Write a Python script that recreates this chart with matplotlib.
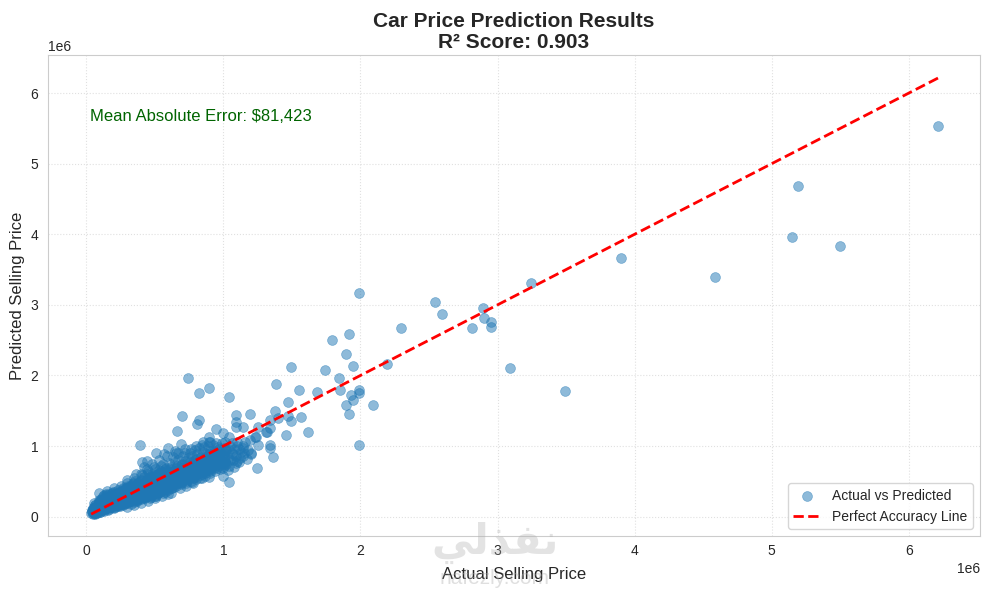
import numpy as np
import matplotlib
matplotlib.use('Agg')
import matplotlib.pyplot as plt
import seaborn as sns

# values, in thousands
actual_low = [35, 40, 45, 50, 55, 60, 65, 70, 75, 80,
              38, 42, 48, 52, 58, 62, 68, 72, 78, 82,
              85, 90, 95, 100, 105, 110, 115, 120, 125, 130,
              88, 92, 98, 102, 108, 112, 118, 122, 128, 132,
              135, 140, 145, 150, 155, 160, 165, 170, 175, 180,
              138, 142, 148, 152, 158, 162, 168, 172, 178, 182,
              185, 190, 195, 200, 205, 210, 215, 220, 225, 230,
              188, 192, 198, 202, 208, 212, 218, 222, 228, 232,
              235, 240, 245, 250, 255, 260, 265, 270, 275, 280,
              238, 242, 248, 252, 258, 262, 268, 272, 278, 282,
              285, 290, 295, 300, 305, 310, 315, 320, 325, 330,
              288, 292, 298, 302, 308, 312, 318, 322, 328, 332]
pred_low = [55, 85, 40, 110, 65, 130, 50, 95, 150, 70,
            100, 60, 125, 45, 90, 160, 75, 120, 55, 140,
            180, 75, 125, 220, 95, 150, 260, 110, 195, 85,
            105, 235, 145, 70, 185, 120, 165, 290, 135, 225,
            110, 205, 320, 150, 95, 250, 175, 130, 280, 210,
            170, 125, 230, 300, 145, 190, 115, 265, 155, 240,
            135, 330, 185, 260, 120, 215, 300, 165, 240, 145,
            225, 160, 285, 195, 350, 130, 250, 205, 170, 310,
            190, 270, 150, 340, 225, 175, 295, 385, 210, 255,
            315, 205, 245, 180, 360, 280, 165, 235, 330, 195,
            225, 410, 270, 190, 345, 240, 300, 440, 175, 265,
            320, 205, 375, 255, 295, 420, 215, 350, 280, 235]

actual_mid = [335, 340, 345, 350, 355, 360, 365, 370, 375, 380,
              338, 342, 348, 352, 358, 362, 368, 372, 378, 382,
              385, 390, 395, 400, 405, 410, 415, 420, 425, 430,
              388, 392, 398, 402, 408, 412, 418, 422, 428, 432,
              435, 440, 445, 450, 455, 460, 465, 470, 475, 480,
              438, 442, 448, 452, 458, 462, 468, 472, 478, 482,
              485, 490, 495, 500, 505, 510, 515, 520, 525, 530,
              488, 492, 498, 502, 508, 512, 518, 522, 528, 532,
              535, 540, 545, 550, 555, 560, 565, 570, 575, 580,
              538, 542, 548, 552, 558, 562, 568, 572, 578, 582,
              585, 590, 595, 600, 605, 610, 615, 620, 625, 630,
              635, 640, 645, 650, 655, 660, 665, 670, 675, 680]
pred_mid = [300, 480, 210, 385, 265, 330, 450, 240, 355, 295,
            250, 370, 325, 505, 285, 415, 220, 345, 470, 310,
            390, 260, 520, 335, 430, 290, 365, 555, 275, 405,
            320, 460, 245, 375, 590, 300, 435, 350, 265, 500,
            385, 610, 290, 445, 340, 530, 270, 400, 575, 315,
            480, 360, 640, 305, 420, 550, 280, 470, 380, 600,
            325, 510, 430, 670, 295, 395, 565, 345, 490, 620,
            410, 700, 360, 540, 450, 320, 590, 425, 655, 375,
            500, 345, 720, 440, 610, 385, 530, 680, 350, 465,
            570, 400, 650, 480, 335, 740, 425, 585, 510, 690,
            440, 620, 370, 760, 500, 560, 405, 700, 470, 640,
            530, 420, 780, 590, 460, 710, 540, 800, 490, 650]

actual_high = [685, 690, 695, 700, 705, 710, 715, 720, 725, 730,
               735, 740, 745, 750, 755, 760, 765, 770, 775, 780,
               785, 790, 795, 800, 805, 810, 815, 820, 825, 830,
               835, 840, 845, 850, 855, 860, 865, 870, 875, 880,
               885, 890, 895, 900, 905, 910, 915, 920, 925, 930,
               935, 940, 950, 960, 970, 980, 990, 1000, 1010, 1020,
               1030, 1040, 1050, 1060, 1070, 1080, 1090, 1100, 1110, 1130]
pred_high = [600, 480, 740, 530, 860, 650, 560, 790, 700, 610,
             500, 830, 680, 580, 900, 730, 630, 860, 540, 770,
             670, 950, 600, 810, 720, 880, 650, 760, 970, 690,
             840, 610, 780, 920, 700, 990, 660, 850, 750, 890,
             720, 1000, 800, 650, 930, 780, 870, 700, 1020, 840,
             760, 910, 690, 980, 820, 750, 1040, 880, 780, 950,
             840, 720, 1000, 900, 800, 960, 860, 1060, 780, 920]

# the solid body of the cloud, where single points can't be told apart
actual_body = [62, 58, 64, 60, 66, 56, 63, 59,
               97, 92, 99, 94, 96, 91, 98, 93,
               132, 128, 134, 126, 131, 129, 135, 127,
               167, 163, 169, 161, 166, 164, 170, 162,
               202, 198, 204, 196, 201, 199, 205, 197,
               237, 233, 239, 231, 236, 234, 240, 232,
               272, 268, 274, 266, 271, 269, 275, 267,
               307, 303, 309, 301, 306, 304, 310, 302,
               342, 338, 344, 336, 341, 339, 345, 337,
               377, 373, 379, 371, 376, 374, 380, 372,
               412, 408, 414, 406, 411, 409, 415, 407,
               447, 443, 449, 441, 446, 444, 450, 442,
               482, 478, 484, 476, 481, 479, 485, 477,
               517, 513, 519, 511, 516, 514, 520, 512,
               552, 548, 554, 546, 551, 549, 555, 547,
               587, 583, 589, 581, 586, 584, 590, 582,
               622, 618, 624, 616, 621, 619, 625, 617,
               657, 653, 659, 651, 656, 654, 660, 652,
               692, 688, 694, 686, 691, 689, 695, 687,
               727, 723, 729, 721, 726, 724, 730, 722,
               762, 758, 764, 756, 761, 759, 765, 757,
               797, 793, 799, 791, 796, 794, 800, 792,
               832, 828, 834, 826, 831, 829, 835, 827,
               867, 863, 869, 861, 866, 864, 870, 862,
               902, 898, 904, 896, 901, 899, 905, 897,
               937, 933, 939, 931, 936, 934, 940, 932,
               972, 968, 974, 966, 971, 969, 975, 967,
               1007, 1003, 1009, 1001, 1006, 1004, 1010, 1002]
pred_body = [40, 70, 100, 130, 160, 190, 55, 115,
             60, 90, 120, 150, 180, 210, 240, 75,
             90, 120, 150, 180, 210, 240, 270, 300,
             110, 140, 170, 200, 230, 260, 290, 320,
             130, 165, 195, 230, 260, 290, 320, 350,
             160, 190, 225, 255, 285, 320, 350, 380,
             185, 220, 250, 280, 315, 345, 380, 410,
             205, 240, 270, 300, 335, 365, 400, 430,
             225, 260, 290, 325, 355, 390, 420, 455,
             250, 285, 315, 350, 380, 415, 450, 480,
             270, 305, 340, 370, 405, 440, 470, 505,
             295, 330, 365, 395, 430, 465, 500, 530,
             315, 350, 385, 420, 455, 490, 525, 560,
             340, 375, 410, 445, 480, 515, 550, 590,
             365, 400, 435, 470, 505, 540, 580, 615,
             390, 425, 460, 495, 530, 570, 605, 640,
             410, 450, 485, 520, 555, 595, 630, 670,
             435, 470, 510, 545, 585, 620, 660, 695,
             460, 495, 535, 570, 610, 650, 685, 725,
             480, 520, 555, 595, 635, 670, 710, 750,
             505, 545, 580, 620, 660, 695, 735, 775,
             530, 565, 605, 645, 680, 720, 760, 800,
             550, 590, 630, 665, 705, 745, 785, 825,
             575, 615, 650, 690, 730, 770, 810, 850,
             620, 655, 695, 730, 770, 810, 850, 890,
             650, 690, 725, 765, 805, 845, 885, 925,
             680, 720, 755, 795, 835, 875, 915, 955,
             710, 750, 785, 825, 860, 900, 940, 975]

# points along the rim of the cloud and just past x = 1
actual_edge = [89, 405, 444, 507, 568, 597, 653, 692, 393, 498, 597, 768, 896, 999, 1042, 648, 721, 845, 947, 663,
               999, 1100, 768, 896,
               1020, 1050, 1070, 1040, 1090, 1120, 1150, 1100, 1140, 1180, 1010, 1060, 1170, 1200, 1080, 1030, 1110, 1160,
               300, 350, 400, 450, 500, 550, 620, 680, 730, 780, 840,
               150, 200, 250, 300, 350, 400, 440, 480, 530, 590, 630, 670, 720, 760, 800, 850, 900, 300, 360, 420]
pred_edge = [337, 768, 790, 900, 885, 966, 895, 1023, 1020, 295, 319, 493, 564, 569, 484, 923, 952, 1008, 1037, 1207,
             683, 782, 640, 690,
             740, 800, 880, 950, 760, 830, 900, 1000, 1000, 950, 1060, 1040, 820, 880, 700, 660, 960, 1060,
             130, 160, 190, 225, 260, 290, 340, 400, 440, 480, 540,
             360, 400, 440, 480, 540, 610, 680, 750, 800, 860, 850, 900, 900, 960, 1000, 1060, 1060, 520, 600, 700]

actual_out = [743, 896, 823, 1042, 700, 823, 809, 1093, 1093, 1093, 947, 999, 896, 896, 1042,
              1196, 1145, 1254, 1342, 1342, 1320, 1232, 1196, 1254, 1342, 1342, 1364, 1203, 1145, 1145, 1247,
              1312, 1240, 1385, 1553, 1685, 1473, 1378, 1473, 1568, 1495, 1400, 1458, 1619,
              1991, 1918, 1794, 1896, 1948, 1495, 1743, 1845, 1853, 1991, 1991, 1933, 1948, 1896, 2094, 1918, 1991,
              2196, 2298, 2546, 2597, 2816, 2897, 2899, 2950, 2950, 3094, 3247, 3495,
              3900, 4590, 5145, 5195, 5500, 6215]
pred_out = [1957, 1816, 1745, 1688, 1419, 1363, 1306, 1433, 1334, 1270, 1235, 1178, 1122, 1060, 1122,
            1448, 1263, 1263, 1363, 1249, 1193, 1122, 1079, 1008, 1008, 966, 839, 895, 966, 860, 683,
            1200, 1130, 1872, 1787, 1759, 1617, 1490, 1419, 1405, 1348, 1391, 1150, 1193,
            3161, 2580, 2496, 2297, 2140, 2113, 2070, 1957, 1800, 1800, 1745, 1716, 1645, 1575, 1575, 1448, 1008,
            2156, 2666, 3034, 2864, 2666, 2949, 2816, 2750, 2680, 2100, 3303, 1773,
            3660, 3390, 3960, 4680, 3840, 5530]

actual = np.array(actual_low + actual_mid + actual_high + actual_body + actual_edge + actual_out) * 1000
predicted = np.array(pred_low + pred_mid + pred_high + pred_body + pred_edge + pred_out) * 1000

sns.set_style('whitegrid')
plt.rcParams['font.family'] = ['Liberation Sans', 'DejaVu Sans']

fig, ax = plt.subplots(figsize=(9.89, 5.90), dpi=100)
fig.subplots_adjust(left=48 / 989, right=980 / 989, top=1 - 55 / 590, bottom=1 - 536 / 590)

ax.scatter(actual, predicted, alpha=0.5, s=50, linewidths=0.5, color='#1f77b4', label='Actual vs Predicted')
lims = [actual.min(), actual.max()]
ax.plot(lims, lims, 'r--', lw=2, label='Perfect Accuracy Line')

ax.set_xlim(-0.28e6, 6.52e6)
ax.set_ylim(-0.275e6, 6.54e6)
ax.tick_params(axis='x', pad=2)
ax.set_xlabel('Actual Selling Price', fontsize=12, labelpad=7)
ax.set_ylabel('Predicted Selling Price', fontsize=12)
ax.set_title('Car Price Prediction Results\nR² Score: 0.903', fontsize=15, fontweight='bold', linespacing=1.15, pad=5)
ax.grid(True, linestyle=':', alpha=0.6)
ax.legend(loc='lower right', fontsize=10, frameon=True)
ax.text(0.045, 0.887, 'Mean Absolute Error: $81,423', transform=ax.transAxes,
        fontsize=12, color='darkgreen', va='top')

# site watermark
fig.text(495 / 989, 1 - 543 / 590, 'ﻲﻟﺬﻔﻧ', fontsize=30, fontweight='bold', color='#b0b0b0', alpha=0.35,
         ha='center', va='center', family='DejaVu Sans')
fig.text(495 / 989, 1 - 579 / 590, 'nafezly.com', fontsize=15, color='#b0b0b0', alpha=0.4,
         ha='center', va='center')

fig.savefig('out.png', dpi=100)
